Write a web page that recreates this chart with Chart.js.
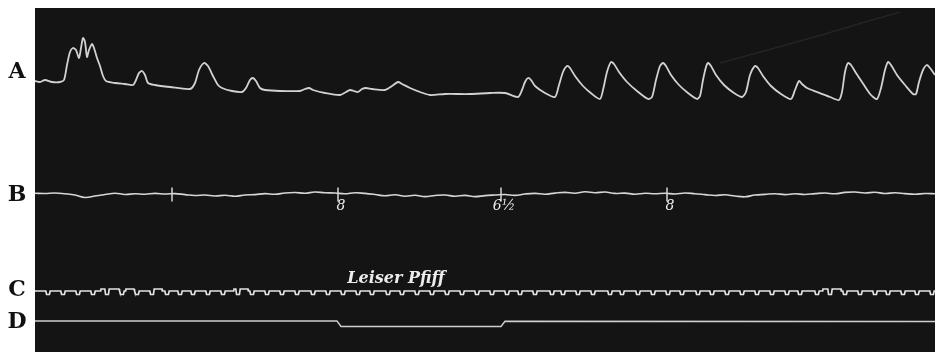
<!DOCTYPE html>
<html>
<head>
<meta charset="utf-8">
<script src="https://cdn.jsdelivr.net/npm/chart.js@4.4.1/dist/chart.umd.min.js"></script>
<style>
  html, body { margin: 0; padding: 0; background: #ffffff; overflow: hidden; }
  #wrap { position: relative; width: 935px; height: 352px; }
  #kymo { display: block; }
</style>
</head>
<body>
<div id="wrap"><canvas id="kymo"></canvas></div>
<script>
// ---- Trace A: pulse / pressure curve (time, height above the resting level)
const aTimes = [0,5,10,17,25,29,32,35,38,41,44,46,48,50,52,54,57,59,62,65,68,71,80,90,98,101,104,107,110,113,120,135,155,160,164,169,173,178,183,187,197,207,211,215,218,221,225,230,245,265,270,274,278,290,305,311,315,319,323,327,331,337,350,357,363,367,375,385,395,410,435,455,470,483,487,490,493,496,500,510,520,524,528,532,535,540,548,557,565,568,572,576,579,584,592,602,613,617,621,625,628,631,636,644,653,662,665,668,671,673,676,681,689,699,707,711,715,720,723,728,736,746,756,760,764,767,772,782,795,804,807,810,813,816,821,829,836,842,846,850,853,856,862,870,878,881,884,888,892,895,900];
const aValues = [19,18,20,18,18,20,35,48,52,50,42,52,62,58,43,50,56,52,42,34,24,19,17,16,15,20,27,29,25,17,15,13,11,17,30,37,34,24,15,12,9,8,12,20,22,19,12,10,9,9,11,12,10,7,5,8,10,9,8,11,12,11,10,14,18,16,12,8,5,6,6,7,7,3,10,18,22,20,14,7,3,15,28,34,32,24,14,6,1,10,28,38,36,28,18,9,1,3,20,34,37,34,25,15,7,1,4,20,33,37,34,25,15,7,3,8,25,34,32,24,14,6,1,10,19,16,12,8,3,0,8,28,37,35,27,15,5,1,12,30,38,35,25,15,6,6,18,30,35,32,25];

// ---- Trace B: breathing record with the marker strokes
const bStep = 10;
const bValues = [0.7,0.5,1.0,0.2,-1.0,-3.5,-2.0,-0.5,0.8,-0.5,0.3,-0.2,0.6,0.0,0.4,-0.6,-1.5,-1.0,-2.0,-1.2,-2.2,-1.0,-0.6,0.4,-0.3,1.0,1.5,0.8,2.0,1.2,1.0,0.2,1.3,0.6,-0.5,-1.8,-0.8,-2.2,-1.3,-2.6,-1.5,-1.0,-2.2,-1.4,-2.6,-1.6,-1.0,-0.5,-1.4,0.0,0.6,-0.2,0.9,1.6,0.8,2.2,1.3,2.0,0.6,0.9,-0.2,0.7,0.2,0.8,0.0,1.0,0.3,-0.6,-1.5,-0.8,-2.0,-2.8,-1.0,-0.4,0.3,-0.6,0.2,-0.5,0.4,1.0,0.2,1.6,2.0,1.0,1.8,0.5,1.2,0.4,-0.2,0.5,0.3];
const bMarks = [137, 303, 466, 632];
const bMarkLabels = ['', '8', '6½', '8'];

// ---- Trace C: time marker (one dip per beat of the clock)
const cNotches = [13,28,43,58,72,87,102,117,132,145,158,173,188,203,217,232,247,262,278,293,308,323,337,353,367,382,397,412,427,442,457,472,485,500,517,528,543,558,575,587,603,618,633,647,663,677,692,707,722,737,752,765,782,795,810,825,840,853,868,882,897];
const cRaised = [[66,84],[91,99],[118,127],[199,213],[788,806]];
const cLabel = 'Leiser Pfiff';

// ---- Trace D: signal line (lowered while the stimulus is on)
const dTimes = [0, 302, 306, 466, 470, 900];
const dValues = [0, 0, -5.5, -5.5, -0.3, -0.5];

// faint scratch across the upper right of the plate
const scratchTimes = [685, 740, 790, 830, 865];
const scratchValues = [37, 52, 66, 78, 88];

const traceLetters = [
  { text: 'A', axis: 'yA', value: 28 },
  { text: 'B', axis: 'yB', value: -1 },
  { text: 'C', axis: 'yC', value: 1 },
  { text: 'D', axis: 'yD', value: -1 }
];

const pts = (xs, ys) => xs.map((x, i) => ({ x, y: ys[i] }));
const bData = bValues.map((v, i) => ({ x: i * bStep, y: v }));

// level of the time marker at time t: raised stretches, dips with short sloped edges
const NOTCH_FLAT = 1.4, NOTCH_EDGE = 2.2, NOTCH_DEPTH = -3.5, RAISE = 2;
function cBase(t) {
  for (const [a, b] of cRaised) if (t >= a && t <= b) return RAISE;
  return 0;
}
function cLevel(t) {
  for (const n of cNotches) {
    const d = Math.abs(t - n);
    if (d <= NOTCH_FLAT) return NOTCH_DEPTH;
    if (d < NOTCH_EDGE) {
      const f = (d - NOTCH_FLAT) / (NOTCH_EDGE - NOTCH_FLAT);
      return NOTCH_DEPTH + f * (cBase(t) - NOTCH_DEPTH);
    }
  }
  return cBase(t);
}
const cBreaks = new Set([0, 900]);
cNotches.forEach(n => [-NOTCH_EDGE, -NOTCH_FLAT, NOTCH_FLAT, NOTCH_EDGE].forEach(o => cBreaks.add(+(n + o).toFixed(2))));
cRaised.forEach(([a, b]) => [a - 0.3, a, b, b + 0.3].forEach(v => cBreaks.add(+v.toFixed(2))));
const cData = [...cBreaks].filter(t => t >= 0 && t <= 900).sort((p, q) => p - q).map(t => ({ x: t, y: cLevel(t) }));

const plate = {
  id: 'plate',
  beforeDraw(chart) {
    const { ctx, chartArea: ca } = chart;
    ctx.save();
    ctx.fillStyle = '#ffffff';
    ctx.fillRect(0, 0, chart.width, chart.height);
    ctx.fillStyle = '#141414';
    ctx.fillRect(ca.left, ca.top, ca.right - ca.left, ca.bottom - ca.top);
    ctx.restore();
  },
  afterDatasetsDraw(chart) {
    const { ctx, scales } = chart;
    ctx.save();
    // trace letters in the left margin
    ctx.fillStyle = '#111111';
    ctx.font = 'bold 22px "DejaVu Serif"';
    ctx.textAlign = 'center';
    ctx.textBaseline = 'middle';
    traceLetters.forEach(l => {
      ctx.fillText(l.text, 17, scales[l.axis].getPixelForValue(l.value));
    });
    // numbers written under the marker strokes of B
    ctx.fillStyle = '#ececec';
    ctx.font = 'italic 14px "DejaVu Serif"';
    ctx.textBaseline = 'middle';
    bMarks.forEach((t, i) => {
      if (!bMarkLabels[i]) return;
      ctx.fillText(bMarkLabels[i], scales.x.getPixelForValue(t) + 3, scales.yB.getPixelForValue(-12));
    });
    // note above the time marker
    ctx.font = 'bold italic 16px "DejaVu Serif"';
    ctx.fillStyle = '#ececec';
    ctx.textAlign = 'center';
    ctx.fillText(cLabel, scales.x.getPixelForValue(361), scales.yC.getPixelForValue(12));
    ctx.restore();
  }
};

const line = (data, yAxisID, color, width, extra) => Object.assign({
  type: 'line', data, yAxisID, borderColor: color, borderWidth: width,
  pointRadius: 0, fill: false, tension: 0
}, extra || {});

new Chart(document.getElementById('kymo'), {
  type: 'line',
  data: {
    datasets: [
      line(pts(scratchTimes, scratchValues), 'yA', 'rgba(200,200,200,0.09)', 1.5),
      line(pts(aTimes, aValues), 'yA', '#d2d2d2', 1.8, { tension: 0.25 }),
      line(bData, 'yB', '#d6d6d6', 1.6, { tension: 0.4 }),
      {
        type: 'scatter', data: bMarks.map(t => ({ x: t, y: -0.5 })), yAxisID: 'yB',
        pointStyle: 'line', rotation: 90, radius: 7, borderColor: '#d6d6d6',
        borderWidth: 1.5, backgroundColor: '#d6d6d6'
      },
      line(cData, 'yC', '#e2e2e2', 1.7),
      line(pts(dTimes, dValues), 'yD', '#cfcfcf', 1.4)
    ]
  },
  options: {
    responsive: true,
    maintainAspectRatio: false,
    animation: false,
    devicePixelRatio: 1,
    layout: { autoPadding: false, padding: { left: 35, top: 8, right: 0, bottom: 0 } },
    plugins: { legend: { display: false }, tooltip: { enabled: false } },
    scales: {
      x: { type: 'linear', min: 0, max: 900, display: false },
      yA: { min: -252, max: 92, display: false },
      yB: { min: -158, max: 186, display: false },
      yC: { min: -61, max: 283, display: false },
      yD: { min: -31, max: 313, display: false }
    }
  },
  plugins: [plate]
});
</script>
</body>
</html>
